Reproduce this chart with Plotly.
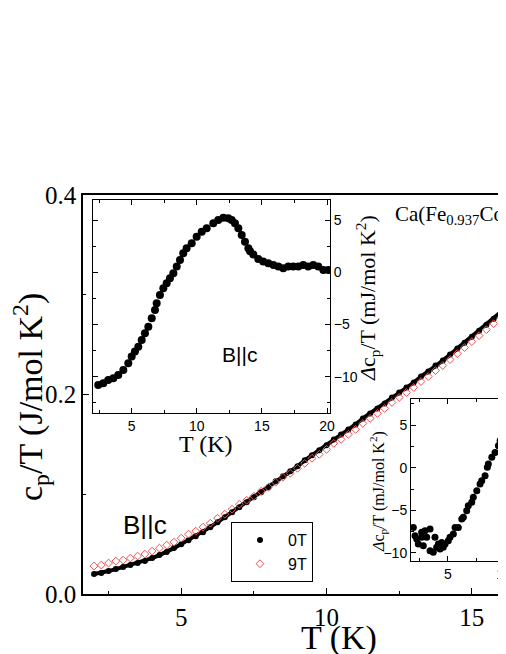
import plotly.graph_objects as go

W, H = 506, 654
# the page body adds an 8px offset; reference pixel positions are measured in the screenshot
OFF = 8

# main panel: c_p/T vs T at 0 T and 9 T
t_main = [2.0, 2.25, 2.5, 2.75, 3.0, 3.25, 3.5, 3.75, 4.0, 4.25, 4.5, 4.75, 5.0, 5.25, 5.5, 5.75,
          6.0, 6.25, 6.5, 6.75, 7.0, 7.25, 7.5, 7.75, 8.0, 8.25, 8.5, 8.75, 9.0, 9.25, 9.5, 9.75,
          10.0, 10.25, 10.5, 10.75, 11.0, 11.25, 11.5, 11.75, 12.0, 12.25, 12.5, 12.75, 13.0, 13.25,
          13.5, 13.75, 14.0, 14.25, 14.5, 14.75, 15.0, 15.25, 15.5, 15.75, 16.0, 16.25]
cp_0T = [0.020, 0.021, 0.023, 0.025, 0.027, 0.029, 0.031, 0.033, 0.036, 0.039, 0.042, 0.046,
         0.050, 0.054, 0.058, 0.062, 0.067, 0.072, 0.077, 0.082, 0.087, 0.092, 0.097, 0.102,
         0.107, 0.113, 0.118, 0.123, 0.128, 0.134, 0.139, 0.144, 0.149, 0.155, 0.160, 0.165,
         0.170, 0.176, 0.181, 0.186, 0.191, 0.197, 0.202, 0.207, 0.212, 0.218, 0.223, 0.229,
         0.234, 0.240, 0.246, 0.252, 0.258, 0.264, 0.270, 0.276, 0.282, 0.289]
cp_9T = [0.028, 0.029, 0.031, 0.033, 0.034, 0.036, 0.038, 0.040, 0.043, 0.046, 0.049, 0.052,
         0.056, 0.060, 0.063, 0.067, 0.071, 0.076, 0.080, 0.085, 0.090, 0.094, 0.098, 0.103,
         0.107, 0.112, 0.117, 0.121, 0.126, 0.131, 0.136, 0.140, 0.145, 0.151, 0.155, 0.160,
         0.165, 0.171, 0.176, 0.181, 0.186, 0.192, 0.197, 0.202, 0.207, 0.213, 0.218, 0.224,
         0.229, 0.235, 0.241, 0.247, 0.253, 0.259, 0.265, 0.271, 0.277, 0.284]

# upper-left inset: delta c_p/T (mJ/mol K^2)
t_ins1 = [2.43, 2.82, 3.20, 3.59, 3.97, 4.36, 4.74, 5.00, 5.25, 5.51, 5.77, 6.02, 6.28, 6.54,
          6.79, 6.92, 7.17, 7.43, 7.69, 7.94, 8.20, 8.46, 8.71, 8.96, 9.22, 9.61, 9.99, 10.38,
          10.76, 11.27, 11.65, 12.04, 12.42, 12.68, 12.93, 13.19, 13.45, 13.70, 13.96, 14.09,
          14.34, 14.72, 15.10, 15.49, 15.88, 16.26, 16.64, 17.03, 17.41, 17.80, 18.18, 18.56,
          18.95, 19.33, 19.72, 20.10]
dcp_ins1 = [-10.79, -10.63, -10.32, -10.16, -9.84, -9.36, -8.72, -8.08, -7.60, -7.13, -6.48,
            -5.84, -5.21, -4.41, -3.61, -2.97, -2.17, -1.53, -1.05, -0.57, -0.10, 0.54, 1.18,
            1.82, 2.30, 2.78, 3.41, 3.89, 4.21, 4.69, 5.01, 5.23, 5.17, 5.01, 4.69, 4.21, 3.57,
            2.93, 2.30, 2.00, 1.70, 1.26, 1.02, 0.86, 0.70, 0.54, 0.38, 0.54, 0.54, 0.54, 0.70,
            0.54, 0.70, 0.54, 0.22, 0.22]

# lower-right inset
t_ins2 = [1.91, 2.06, 2.21, 2.35, 2.65, 2.65, 2.80, 2.95, 3.10, 3.40, 3.40, 3.69, 3.84, 3.99,
          4.14, 4.29, 4.44, 4.58, 4.74, 5.03, 5.18, 5.48, 5.63, 5.92, 6.23, 6.37, 6.67, 6.81,
          7.12, 7.26, 7.57, 7.86, 8.01, 8.31, 8.51, 8.60, 8.91, 9.20, 9.50, 9.65, 9.94, 10.09]
dcp_ins2 = [-7.00, -7.97, -8.36, -8.95, -7.58, -8.17, -9.14, -7.39, -8.17, -9.73, -7.19, -9.92,
            -8.17, -9.34, -8.95, -9.53, -8.76, -9.34, -8.95, -8.56, -8.17, -7.78, -7.00, -7.00,
            -6.02, -5.82, -5.04, -4.45, -4.06, -3.48, -2.70, -1.91, -1.52, -0.94, 0.04, 0.43,
            1.21, 1.79, 2.58, 3.17, 2.97, 3.36]

SERIF = "Liberation Serif"
SANS = "Liberation Sans"


def px(x):
    return (x - OFF) / W


def py(y):
    return 1 - (y - OFF) / H


fig = go.Figure()

fig.add_trace(go.Scatter(x=t_main, y=cp_0T, mode="lines", line=dict(color="black", width=4),
                         showlegend=False, hoverinfo="skip"))
fig.add_trace(go.Scatter(x=t_main, y=cp_0T, mode="markers", name="0T",
                         marker=dict(color="black", size=6)))
fig.add_trace(go.Scatter(x=t_main, y=cp_9T, mode="markers", name="9T",
                         marker=dict(symbol="diamond-open", color="#f05050", size=6,
                                     line=dict(width=1))))

fig.add_trace(go.Scatter(x=t_ins1, y=dcp_ins1, mode="markers", xaxis="x2", yaxis="y2",
                         marker=dict(color="black", size=8), showlegend=False))
fig.add_trace(go.Scatter(x=t_ins2, y=dcp_ins2, mode="markers", xaxis="x3", yaxis="y3",
                         marker=dict(color="black", size=7), showlegend=False))

main_ax = dict(showline=True, linecolor="black", linewidth=1.5, ticks="inside", ticklen=6,
               tickwidth=1, tickcolor="black", showgrid=False, zeroline=False, automargin=False,
               tickfont=dict(family=SERIF, size=25, color="black"))
ins_ax = dict(showline=True, linecolor="black", linewidth=1, ticks="inside", ticklen=5,
              tickwidth=1, tickcolor="black", showgrid=False, zeroline=False, mirror="ticks",
              automargin=False, tickfont=dict(family=SANS, size=14, color="black"))

fig.update_layout(
    width=W, height=H,
    margin=dict(l=0, r=0, t=0, b=0, pad=0, autoexpand=False),
    paper_bgcolor="white", plot_bgcolor="white",
    xaxis=dict(main_ax, domain=[px(83), 1.0], range=[1.62, 16.45], dtick=5, tick0=0,
               mirror=True, minor=dict(dtick=2.5, ticklen=3, ticks="inside", tickcolor="black"),
               anchor="y"),
    yaxis=dict(main_ax, domain=[py(594), py(195)], range=[0, 0.4], dtick=0.2, tickformat=".1f",
               minor=dict(dtick=0.1, ticklen=3, ticks="inside", tickcolor="black"), anchor="x"),
    xaxis2=dict(ins_ax, domain=[px(93), px(330)], range=[2.03, 20.23], dtick=5, tick0=0,
                minor=dict(dtick=2.5, ticklen=3, ticks="inside", tickcolor="black"), anchor="y2"),
    yaxis2=dict(ins_ax, domain=[py(413), py(200)], range=[-13.48, 6.92], dtick=5, tick0=0,
                side="right", minor=dict(dtick=2.5, ticklen=3, ticks="inside", tickcolor="black"),
                anchor="x2"),
    xaxis3=dict(ins_ax, domain=[px(411), 1.0], range=[1.70, 10.89], dtick=5, tick0=0,
                minor=dict(dtick=2.5, ticklen=3, ticks="inside", tickcolor="black"), anchor="y3"),
    yaxis3=dict(ins_ax, domain=[py(561), py(399)], range=[-10.94, 8.05], dtick=5, tick0=0,
                minor=dict(dtick=2.5, ticklen=3, ticks="inside", tickcolor="black"), anchor="x3"),
    legend=dict(x=px(231), y=py(552), xanchor="left", yanchor="middle", bgcolor="white",
                bordercolor="black", borderwidth=1, font=dict(family=SANS, size=16, color="black"),
                itemwidth=46, tracegroupgap=0),
    showlegend=True,
)

annotations = [
    dict(text="c<sub>p</sub>/T (J/mol K<sup>2</sup>)", x=px(30), y=py(397), textangle=-90,
         font=dict(family=SERIF, size=34)),
    dict(text="T (K)", x=px(339), y=py(638), font=dict(family=SERIF, size=34)),
    dict(text="T (K)", x=px(206), y=py(444), font=dict(family=SERIF, size=24)),
    dict(text="<i>Δ</i>c<sub>p</sub>/T (mJ/mol K<sup>2</sup>)", x=px(368), y=py(298),
         textangle=-90, font=dict(family=SERIF, size=22)),
    dict(text="<i>Δ</i>c<sub>p</sub>/T (mJ/mol K<sup>2</sup>)", x=px(378), y=py(492),
         textangle=-90, font=dict(family=SERIF, size=16)),
    dict(text="B||c", x=px(145), y=py(525), font=dict(family=SANS, size=26)),
    dict(text="B||c", x=px(239), y=py(354), font=dict(family=SANS, size=21)),
    dict(text="Ca(Fe<sub>0.937</sub>Co<sub>0.063</sub>)<sub>2</sub>As<sub>2</sub>", x=px(393),
         y=py(215), xanchor="left", font=dict(family=SERIF, size=21)),
]
for a in annotations:
    a.setdefault("xanchor", "center")
    a.setdefault("yanchor", "middle")
    a["font"]["color"] = "black"
    fig.add_annotation(xref="paper", yref="paper", showarrow=False, **a)

fig.write_html("out.html")
